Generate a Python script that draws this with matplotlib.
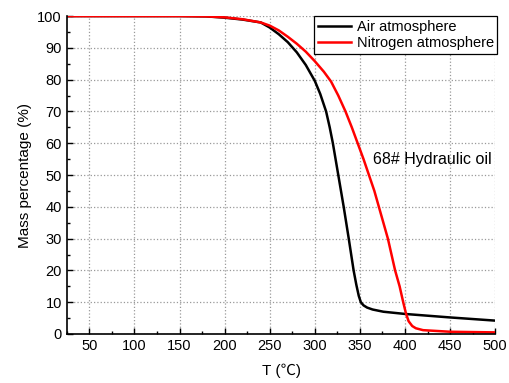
import matplotlib.pyplot as plt

plt.rcParams['font.family'] = ['Liberation Sans', 'Noto Sans CJK SC', 'DejaVu Sans']

# Air atmosphere (black)
air_t = [25, 100, 150, 180, 200, 220, 240, 250, 260, 270, 280, 290, 300, 306,
         312.5, 316.5, 320, 326, 332, 337.6, 343, 346, 348.7, 351,
         354, 358, 364, 376, 400, 450, 500]
air_m = [100, 100, 100, 99.9, 99.5, 98.9, 98, 96.4, 94.3, 91.8, 88.6, 84.6, 79.6, 75.5,
         70, 65, 60, 50, 40, 30, 20, 15.5, 12, 10,
         9, 8.3, 7.7, 7.0, 6.3, 5.2, 4.2]

# Nitrogen atmosphere (red)
n2_t = [25, 100, 150, 180, 200, 220, 240, 250, 260, 270, 280, 290, 300, 310,
        318, 326, 334, 341, 347.5, 354, 360, 366, 371, 376, 381, 385, 389, 394, 398,
        401, 404, 408, 412, 420, 450, 500]
n2_m = [100, 100, 100, 99.9, 99.6, 99, 98, 97, 95.5, 93.5, 91.3, 88.8, 85.8, 82.5,
        79.4, 75, 70, 65, 60, 55, 50, 45, 40, 35, 30, 25, 20, 15, 10,
        6.5, 4, 2.5, 1.8, 1.2, 0.7, 0.5]

fig = plt.figure(figsize=(5.1, 3.83), dpi=100)
ax = fig.add_axes([0.131, 0.128, 0.84, 0.830])

ax.plot(air_t, air_m, color='black', lw=1.8, label='Air atmosphere')
ax.plot(n2_t, n2_m, color='red', lw=1.8, label='Nitrogen atmosphere')

ax.set_xlim(25, 500)
ax.set_ylim(0, 100)
ax.set_xticks(range(50, 501, 50))
ax.set_xticks(range(25, 501, 25), minor=True)
ax.set_yticks(range(0, 101, 10))
ax.set_yticks(range(5, 101, 10), minor=True)
ax.tick_params(which='major', direction='in', length=4, width=1, labelsize=10.5)
ax.tick_params(which='minor', direction='in', length=2.5, width=1)
ax.spines['top'].set_visible(False)
ax.spines['right'].set_visible(False)
ax.spines['left'].set_linewidth(1.2)
ax.spines['bottom'].set_linewidth(1.2)
ax.grid(True, which='major', linestyle=':', color='#999999', linewidth=0.9)

ax.set_xlabel('T (℃)', fontsize=11, labelpad=8)
ax.set_ylabel('Mass percentage (%)', fontsize=11)

ax.text(364, 55, '68# Hydraulic oil', fontsize=11.5, va='center')

leg = ax.legend(loc='upper right', bbox_to_anchor=(1.005, 1.0), fontsize=10.5,
                fancybox=False, edgecolor='black', framealpha=1,
                borderpad=0.25, labelspacing=0.15, handlelength=2.3,
                handletextpad=0.35, borderaxespad=0)
leg.get_frame().set_linewidth(0.9)

fig.savefig('out.png', dpi=100)
